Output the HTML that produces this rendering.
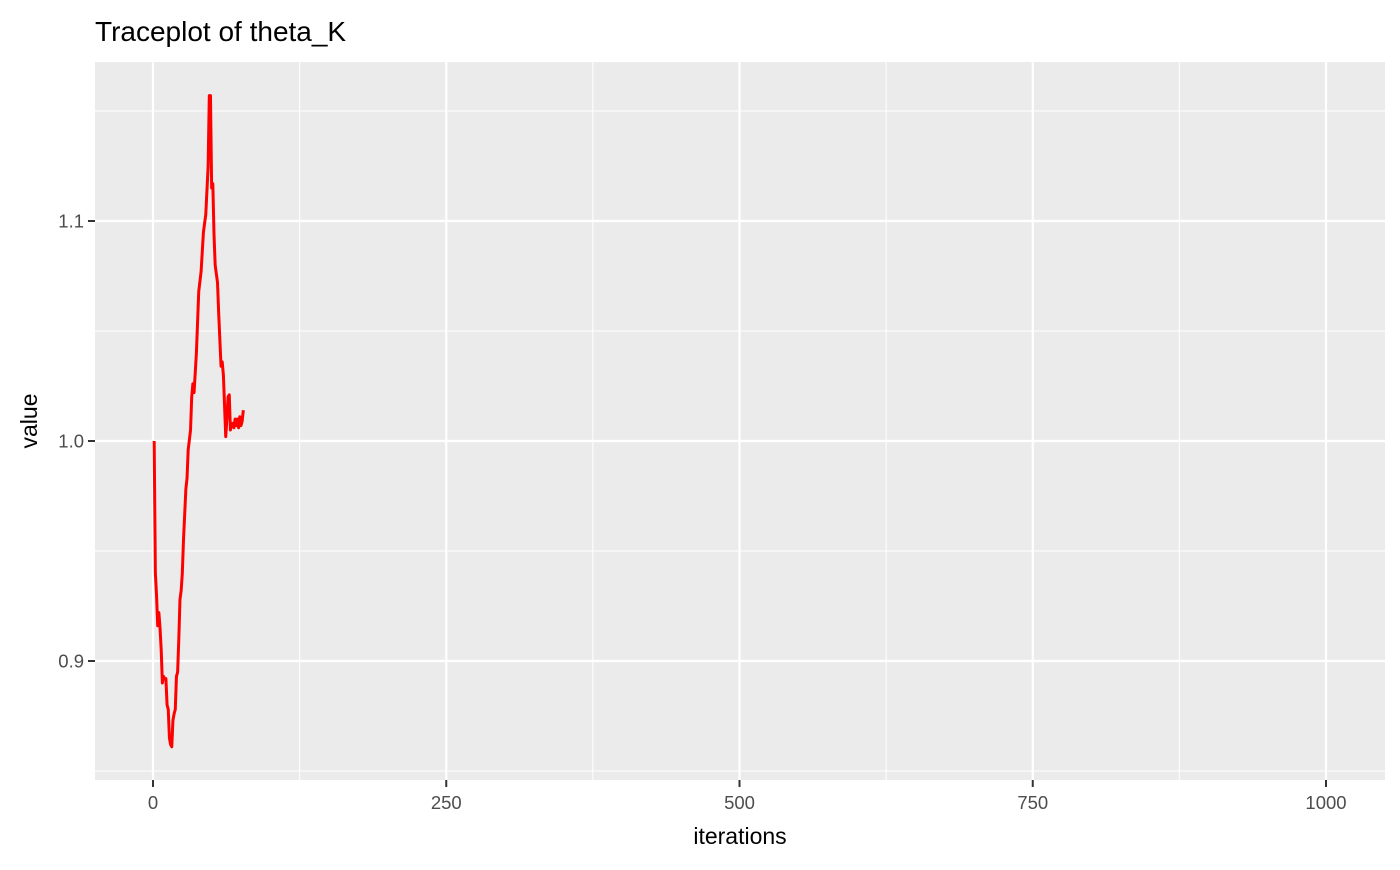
<!DOCTYPE html>
<html><head><meta charset="utf-8"><style>
body{margin:0;background:#fff;width:1400px;height:865px;overflow:hidden;font-family:"Liberation Sans",sans-serif}
</style></head><body>
<svg id="chart" width="1400" height="865" xmlns="http://www.w3.org/2000/svg">
<text x="95" y="41" font-size="28" fill="#000">Traceplot of theta_K</text>
<rect x="95" y="62" width="1290" height="718" fill="#EBEBEB"/>
<g id="grid"></g><g id="axes"></g><g id="series"></g>
<text x="740" y="844" font-size="23" text-anchor="middle" fill="#000">iterations</text>
<text transform="translate(37,421) rotate(-90)" font-size="23" text-anchor="middle" fill="#000">value</text>
</svg>
<script>
const xTicks=[0,250,500,750,1000];
const xMinor=[125,375,625,875];
const yTicks=[0.9,1.0,1.1];
const yTickLabels=["0.9","1.0","1.1"];
const yMinor=[0.85,0.95,1.05,1.15];
const iters=[1,2,3,4,5,6,7,8,9,10,11,12,13,14,15,16,17,18,19,20,21,22,23,24,25,26,28,29,30,32,33,34,35,37,39,41,43,45,47,48,49,50,51,52,53,55,56,58,59,60,62,63,64,65,66,67,68,69,70,71,72,73,74,75,76,77];
const values=[1.0,0.94,0.93,0.916,0.922,0.915,0.905,0.89,0.893,0.892,0.892,0.88,0.878,0.865,0.862,0.861,0.873,0.876,0.878,0.893,0.895,0.91,0.928,0.932,0.94,0.955,0.978,0.983,0.996,1.005,1.02,1.026,1.022,1.04,1.068,1.077,1.095,1.103,1.125,1.157,1.157,1.115,1.117,1.094,1.08,1.072,1.058,1.034,1.036,1.03,1.002,1.01,1.02,1.021,1.005,1.008,1.008,1.006,1.01,1.007,1.01,1.006,1.011,1.007,1.009,1.014];
const X=v=>153+v*1.173, Y=v=>441-(v-1)*2200;
const ns="http://www.w3.org/2000/svg";
function mk(tag,attrs,parent){const e=document.createElementNS(ns,tag);for(const k in attrs)e.setAttribute(k,attrs[k]);document.getElementById(parent).appendChild(e);return e;}
xMinor.forEach(v=>{const l=mk('line',{x1:X(v),x2:X(v),y1:62,y2:780,stroke:'#fff','stroke-width':1},'grid');

});
yMinor.forEach(v=>{const l=mk('line',{x1:95,x2:1385,y1:Y(v),y2:Y(v),stroke:'#fff','stroke-width':1},'grid');

});
xTicks.forEach(v=>{const l=mk('line',{x1:X(v),x2:X(v),y1:62,y2:780,stroke:'#fff','stroke-width':2.2},'grid');


const t=mk('line',{x1:X(v),x2:X(v),y1:780,y2:787,stroke:'#333','stroke-width':2},'axes');


const tx=mk('text',{x:X(v),y:809,'font-size':18.5,fill:'#4D4D4D','text-anchor':'middle'},'axes');tx.textContent=v;

});
yTicks.forEach((v,i)=>{const l=mk('line',{x1:95,x2:1385,y1:Y(v),y2:Y(v),stroke:'#fff','stroke-width':2.2},'grid');


const t=mk('line',{x1:88,x2:95,y1:Y(v),y2:Y(v),stroke:'#333','stroke-width':2},'axes');


const tx=mk('text',{x:84,y:Y(v)+6.5,'font-size':18.5,fill:'#4D4D4D','text-anchor':'end'},'axes');tx.textContent=yTickLabels[i];

});
const p=mk('polyline',{points:iters.map((it,i)=>X(it)+','+Y(values[i])).join(' '),fill:'none',stroke:'#FF0000','stroke-width':3,'stroke-linejoin':'round'},'series');


</script>
</body></html>
